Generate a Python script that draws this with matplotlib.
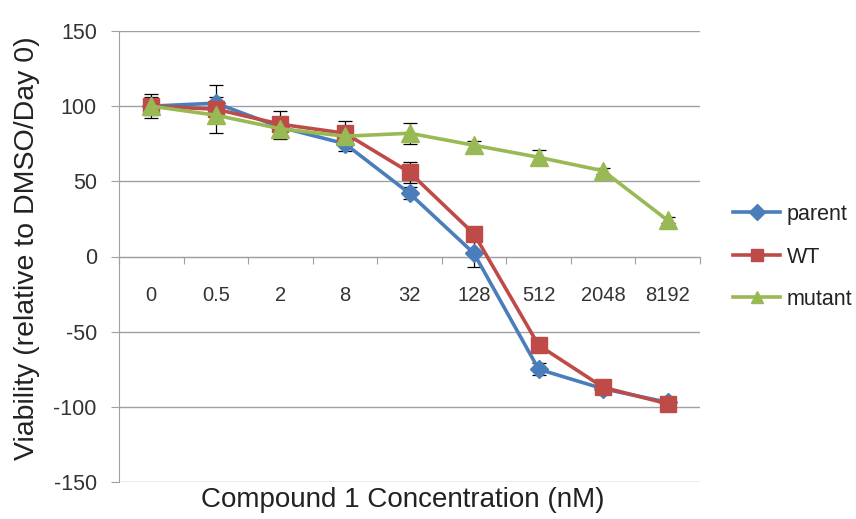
import matplotlib
matplotlib.use("Agg")
import matplotlib.pyplot as plt
import numpy as np

categories = ["0", "0.5", "2", "8", "32", "128", "512", "2048", "8192"]
parent = [100, 102, 86, 75, 42, 2, -75, -88, -97]
parent_err = [8, 12, 6, 5, 4, 9, 4, 2, 2]
wt = [100, 98, 88, 82, 56, 15, -59, -87, -98]
wt_err = [5, 5, 9, 8, 7, 4, 3, 2, 2]
mutant = [100, 94, 85, 80, 82, 74, 66, 57, 24]
mutant_err = [6, 12, 7, 4, 7, 3, 5, 2, 2]
y_ticks = [-150, -100, -50, 0, 50, 100, 150]

plt.rcParams['font.family'] = ['Liberation Sans', 'DejaVu Sans']

fig = plt.figure(figsize=(8.56, 5.19), dpi=100)
ax = fig.add_axes([119/856, 37/519, 581/856, 451/519])

x = np.arange(len(categories))
series = [
    ("parent", parent, parent_err, "#4A7EBB", "D", 9),
    ("WT", wt, wt_err, "#BE4B48", "s", 12),
    ("mutant", mutant, mutant_err, "#98B954", "^", 13),
]
for name, vals, err, col, mk, ms in series:
    ax.errorbar(x, vals, yerr=err, fmt='none', ecolor='black', elinewidth=0.9,
                capsize=5, capthick=0.9, zorder=2)
for name, vals, err, col, mk, ms in series:
    ax.plot(x, vals, color=col, lw=2.6, marker=mk, markersize=ms, label=name, zorder=3)

ax.set_xlim(-0.5, len(categories) - 0.5)
ax.set_ylim(-150, 150)
ax.set_yticks(y_ticks)
ax.set_yticklabels([str(v) for v in y_ticks])
ax.yaxis.grid(True, color='#a0a0a0', lw=1.0)
ax.set_axisbelow(True)

ax.set_xticks(np.arange(len(categories) + 1) - 0.5)
ax.set_xticklabels([])
ax.set_xticks(x, minor=True)
ax.set_xticklabels(categories, minor=True)
ax.tick_params(axis='x', which='major', length=5, color='#a0a0a0', direction='out')
ax.tick_params(axis='x', which='minor', length=0, pad=21, labelsize=14.5, labelcolor='#333333')
ax.tick_params(axis='y', length=6, color='#a0a0a0', labelsize=15.5, labelcolor='#333333', pad=10)

for s in ['top', 'right']:
    ax.spines[s].set_visible(False)
ax.spines['left'].set_color('#a0a0a0')
ax.spines['bottom'].set_color('#a0a0a0')
ax.spines['bottom'].set_position(('data', 0))

fig.text(27/856, 1 - 248/519, "Viability (relative to DMSO/Day 0)", fontsize=20.5,
         color='#222222', ha='center', va='center', rotation=90)
fig.text(403/856, 1 - 500/519, "Compound 1 Concentration (nM)", fontsize=20,
         color='#222222', ha='center', va='center')

leg = fig.legend(loc='center left', bbox_to_anchor=(733/856, 1 - 257/519), frameon=False,
                 fontsize=15.5, handlelength=2.2, labelspacing=1.0, handletextpad=0.3,
                 borderaxespad=0, borderpad=0)
for t in leg.get_texts():
    t.set_color('#222222')
for h in leg.legend_handles:
    h.set_markersize(8)

fig.savefig("out.png", dpi=100, facecolor='white')
